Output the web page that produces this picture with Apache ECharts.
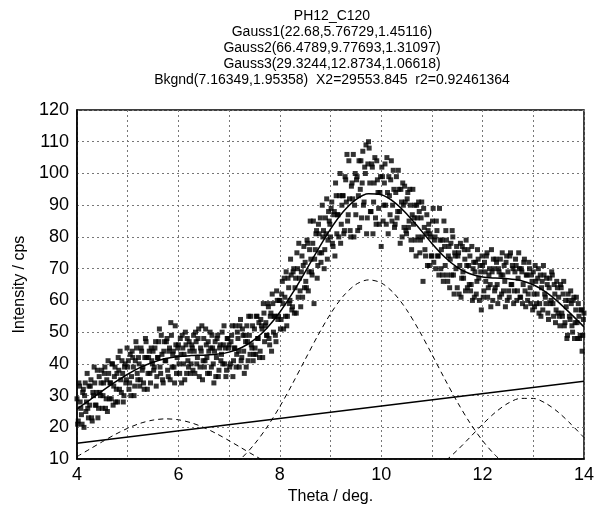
<!DOCTYPE html>
<html>
<head>
<meta charset="utf-8">
<script src="https://cdn.jsdelivr.net/npm/echarts@6/dist/echarts.min.js"></script>
<style>
  html, body { margin: 0; padding: 0; background: #fff; }
  #chart { width: 597px; height: 510px; }
</style>
</head>
<body>
<div id="chart"></div>
<script>
// measured points, theta 4..14 deg; countsA on the 0.025 grid,
// countsB on the half steps between them
var thetaStart = 4;
var thetaStep = 0.025;
var countsA = [
    29, 22, 33, 26, 21, 32, 30, 25, 37, 23,
    27, 35, 22, 30, 34, 27, 38, 26, 31, 34,
    26, 34, 39, 29, 25, 37, 34, 29, 40, 33,
    39, 32, 28, 38, 44, 31, 37, 30, 40, 35,
    39, 32, 43, 36, 42, 30, 41, 45, 35, 40,
    35, 44, 39, 32, 48, 42, 37, 44, 34, 41,
    44, 39, 47, 36, 42, 51, 37, 43, 34, 47,
    41, 48, 36, 45, 53, 39, 44, 34, 46, 42,
    46, 37, 43, 49, 40, 35, 46, 48, 39, 44,
    40, 45, 49, 37, 47, 42, 51, 39, 44, 35,
    48, 41, 46, 37, 44, 50, 39, 45, 34, 47,
    42, 49, 38, 46, 43, 40, 52, 45, 38, 48,
    46, 40, 49, 36, 45, 52, 43, 48, 39, 54,
    42, 49, 37, 47, 52, 41, 49, 55, 45, 41,
    51, 43, 55, 48, 42, 54, 51, 59, 47, 53,
    49, 58, 46, 56, 62, 50, 55, 47, 60, 55,
    60, 54, 66, 51, 61, 69, 55, 64, 60, 68,
    58, 70, 64, 56, 70, 78, 63, 69, 61, 77,
    72, 64, 78, 69, 85, 69, 78, 59, 76, 82,
    71, 81, 86, 75, 80, 70, 86, 92, 79, 85,
    80, 91, 77, 88, 97, 81, 87, 93, 78, 90,
    93, 82, 98, 106, 87, 92, 80, 97, 106, 90,
    87, 99, 93, 83, 104, 97, 90, 102, 109, 86,
    110, 97, 88, 102, 91, 105, 84, 98, 89, 94,
    77, 99, 90, 103, 84, 94, 99, 87, 104, 90,
    95, 84, 99, 88, 95, 78, 91, 97, 83, 91,
    81, 94, 85, 90, 76, 95, 86, 79, 90, 80,
    88, 79, 91, 66, 83, 74, 87, 82, 71, 80,
    74, 89, 79, 70, 82, 74, 89, 70, 79, 66,
    77, 82, 68, 74, 64, 78, 82, 68, 75, 70,
    64, 75, 71, 61, 77, 67, 73, 79, 64, 71,
    74, 65, 60, 72, 69, 62, 76, 67, 71, 57,
    71, 63, 69, 74, 61, 68, 65, 76, 60, 70,
    64, 72, 59, 69, 73, 62, 68, 71, 58, 74,
    69, 61, 75, 65, 70, 63, 73, 60, 67, 70,
    61, 69, 65, 73, 58, 68, 62, 70, 59, 66,
    69, 58, 66, 62, 70, 59, 55, 66, 71, 62,
    59, 65, 54, 67, 60, 68, 55, 62, 57, 64,
    61, 52, 64, 55, 66, 53, 58, 49, 60, 54,
    59, 50, 61, 53, 61, 48, 55, 49, 57, 49,
    56
];
var countsB = [
    21, 34, 28, 24, 31, 20, 34, 28, 26, 33,
    33, 23, 31, 39, 27, 31, 23, 36, 30, 38,
    30, 37, 26, 35, 41, 29, 34, 40, 27, 36,
    28, 37, 42, 32, 35, 41, 28, 39, 34, 45,
    41, 34, 30, 44, 39, 33, 47, 37, 42, 33,
    45, 38, 34, 42, 47, 32, 42, 37, 45, 40,
    38, 45, 33, 42, 47, 39, 49, 35, 44, 41,
    47, 38, 44, 35, 49, 43, 39, 52, 37, 45,
    40, 48, 34, 45, 43, 50, 37, 41, 47, 37,
    46, 38, 44, 50, 40, 48, 36, 45, 52, 41,
    39, 51, 42, 47, 37, 45, 49, 40, 44, 36,
    48, 36, 45, 41, 50, 46, 40, 36, 48, 45,
    39, 47, 52, 41, 45, 39, 50, 44, 52, 41,
    51, 44, 49, 39, 47, 55, 43, 46, 52, 43,
    45, 55, 48, 53, 44, 52, 42, 56, 52, 49,
    59, 48, 55, 44, 59, 55, 49, 63, 54, 60,
    51, 62, 59, 67, 55, 52, 67, 59, 73, 57,
    69, 56, 67, 75, 61, 67, 58, 74, 71, 64,
    66, 79, 63, 76, 73, 68, 85, 73, 81, 67,
    84, 75, 72, 90, 82, 76, 81, 73, 88, 84,
    89, 78, 87, 74, 93, 87, 80, 100, 84, 93,
    81, 99, 91, 85, 104, 82, 96, 92, 80, 100,
    98, 82, 104, 95, 86, 107, 91, 100, 81, 103,
    108, 88, 103, 81, 97, 86, 104, 94, 84, 99,
    102, 85, 97, 90, 105, 81, 93, 98, 85, 101,
    83, 94, 86, 101, 88, 95, 80, 90, 96, 82,
    92, 83, 95, 79, 87, 84, 90, 74, 86, 91,
    75, 86, 80, 89, 76, 81, 71, 84, 81, 74,
    85, 72, 80, 85, 74, 68, 79, 76, 68, 85,
    71, 79, 66, 77, 73, 68, 80, 62, 74, 77,
    74, 62, 78, 67, 69, 76, 63, 71, 76, 65,
    63, 77, 70, 61, 72, 66, 73, 60, 69, 74,
    61, 72, 66, 75, 64, 70, 58, 69, 73, 63,
    73, 65, 70, 61, 68, 75, 63, 66, 72, 60,
    63, 74, 65, 71, 59, 69, 71, 63, 75, 61,
    70, 59, 72, 63, 68, 60, 72, 64, 68, 57,
    62, 71, 59, 67, 56, 68, 64, 57, 68, 61,
    67, 56, 64, 59, 69, 59, 65, 53, 66, 56,
    55, 65, 56, 62, 52, 60, 48, 62, 55, 63,
    52, 60, 48, 57, 53, 59, 48, 57, 44, 54
];

// fitted curves, sampled every 0.25 deg from 4 to 14
var curveStart = 4;
var curveStep = 0.25;
var fitTotal = [
    25.78, 28.61, 31.47, 34.22, 36.74, 38.88, 40.54, 41.67, 42.33, 42.61,
    42.76, 43.01, 43.70, 45.16, 47.65, 51.34, 56.26, 62.27, 68.99, 75.92,
    82.46, 87.91, 91.76, 93.60, 93.32, 91.08, 87.34, 82.73, 77.96, 73.70,
    70.45, 68.38, 67.37, 67.03, 66.85, 66.28, 64.92, 62.59, 59.39, 55.61,
    51.66
];
var gauss1 = [
    10.80, 13.13, 15.49, 17.74, 19.72, 21.29, 22.30, 22.68, 22.39, 21.46,
    19.97, 18.03, 15.81, 13.46, 11.12, 8.92, 6.94, null, null, null,
    null, null, null, null, null, null, null, null, null, null,
    null, null, null, null, null, null, null, null, null, null,
    null
];
var gauss2 = [
    null, null, null, null, null, null, null, null, null, null,
    null, null, 7.05, 10.37, 14.71, 20.12, 26.53, 33.74, 41.37, 48.92,
    55.77, 61.32, 65.02, 66.47, 65.52, 62.28, 57.09, 50.47, 43.02, 35.36,
    28.03, 21.42, 15.79, 11.22, 7.69, null, null, null, null, null,
    null
];
var gauss3 = [
    null, null, null, null, null, null, null, null, null, null,
    null, null, null, null, null, null, null, null, null, null,
    null, null, null, null, null, null, null, null, 6.26, 9.20,
    12.79, 16.84, 20.97, 24.71, 27.58, 29.13, 29.12, 27.55, 24.67, 20.91,
    16.78
];
var bkgndTheta = [4, 14];
var bkgndValues = [14.98, 34.51];

var titleLines = [
    'PH12_C120',
    'Gauss1(22.68,5.76729,1.45116)',
    'Gauss2(66.4789,9.77693,1.31097)',
    'Gauss3(29.3244,12.8734,1.06618)',
    'Bkgnd(7.16349,1.95358)  X2=29553.845  r2=0.92461364'
];

var FONT = '"Liberation Sans", Arial, sans-serif';

function pairs(start, step, values) {
    var out = [];
    for (var i = 0; i < values.length; i++) {
        out.push([Math.round((start + i * step) * 10000) / 10000, values[i]]);
    }
    return out;
}

function curve(name, values, dashed) {
    return {
        name: name,
        type: 'line',
        data: pairs(curveStart, curveStep, values),
        smooth: 0.3,
        showSymbol: false,
        silent: true,
        lineStyle: dashed
            ? { color: '#000', width: 1, type: [5, 4] }
            : { color: '#000', width: 1.5 },
        z: 3
    };
}

var points = pairs(thetaStart, thetaStep, countsA)
    .concat(pairs(thetaStart + thetaStep / 2, thetaStep, countsB));

var chart = echarts.init(document.getElementById('chart'));
var option = {
    animation: false,
    backgroundColor: '#fff',
    title: {
        text: titleLines.join('\n'),
        left: 327,
        top: 3,
        textAlign: 'center',
        textStyle: {
            fontFamily: FONT,
            fontWeight: 'normal',
            fontSize: 14,
            lineHeight: 16,
            color: '#000'
        }
    },
    grid: {
        left: 77,
        right: 12,
        top: 110,
        bottom: 48,
        show: true,
        borderColor: '#000',
        borderWidth: 1.5
    },
    xAxis: {
        type: 'value',
        min: 4,
        max: 14,
        interval: 1,
        name: 'Theta / deg.',
        nameLocation: 'middle',
        nameGap: 29,
        nameTextStyle: { fontFamily: FONT, fontSize: 16, color: '#000' },
        axisLine: { lineStyle: { color: '#000', width: 1.5 } },
        axisTick: { show: false },
        axisLabel: {
            fontFamily: FONT,
            fontSize: 18,
            color: '#000',
            margin: 7,
            formatter: function(v) { return v % 2 === 0 ? String(v) : ''; }
        },
        splitLine: { show: true, lineStyle: { color: '#777', width: 1, type: [2, 3] } }
    },
    yAxis: {
        type: 'value',
        min: 10,
        max: 120,
        interval: 10,
        name: 'Intensity / cps',
        nameLocation: 'middle',
        nameGap: 46,
        nameTextStyle: { fontFamily: FONT, fontSize: 16, color: '#000' },
        axisLine: { lineStyle: { color: '#000', width: 1.5 } },
        axisTick: { show: false },
        axisLabel: { fontFamily: FONT, fontSize: 18, color: '#000', margin: 8 },
        splitLine: { show: true, lineStyle: { color: '#777', width: 1, type: [2, 3] } }
    },
    series: [
        {
            name: 'data',
            type: 'scatter',
            data: points,
            symbol: 'rect',
            symbolSize: 5,
            itemStyle: { color: '#000' },
            silent: true,
            large: false,
            z: 2
        },
        curve('fit', fitTotal, false),
        curve('Gauss1', gauss1, true),
        curve('Gauss2', gauss2, true),
        curve('Gauss3', gauss3, true),
        {
            name: 'Bkgnd',
            type: 'line',
            data: [[bkgndTheta[0], bkgndValues[0]], [bkgndTheta[1], bkgndValues[1]]],
            showSymbol: false,
            silent: true,
            lineStyle: { color: '#000', width: 1.5 },
            z: 3
        }
    ]
};
chart.setOption(option);
</script>
</body>
</html>
